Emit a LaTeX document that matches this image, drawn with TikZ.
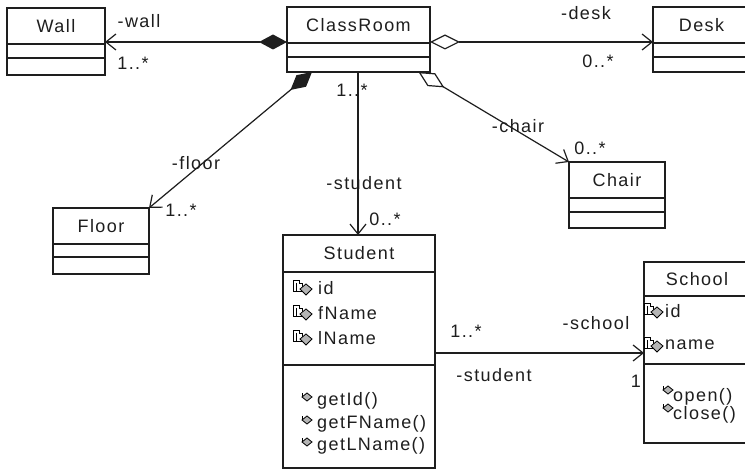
\documentclass[tikz,border=0pt]{standalone}
\usepackage{fontspec}
\setmainfont{Liberation Sans}[LetterSpace=8]
\usetikzlibrary{arrows.meta,positioning,calc}
\definecolor{Ink}{HTML}{1E1E1E}
\definecolor{IconFill}{HTML}{B4B4B4}
\tikzset{
classhead/.style={draw=Ink, line width=1.1pt, fill=white, inner sep=0pt, outer sep=0pt, align=center, text=Ink},
classpart/.style={draw=Ink, line width=1.1pt, fill=white, inner sep=0pt, outer sep=0pt, below=0pt of #1},
membertext/.style={anchor=west, inner sep=0pt, text=Ink},
rolelabel/.style={inner sep=0pt, text=Ink},
composite/.style={{Diamond[length=28pt,width=15pt]}-{Straight Barb[length=10pt,width=16pt]}, line width=1.2pt, draw=Ink, fill=Ink},
shared/.style={{Diamond[open,length=30pt,width=15pt]}-{Straight Barb[length=10pt,width=16pt]}, line width=1.2pt, draw=Ink},
navline/.style={-{Straight Barb[length=10pt,width=16pt]}, line width=1.2pt, draw=Ink},
attricon/.pic={
  \draw[line width=0.8pt, fill=white] (-11,-8) -- (-5,-8) -- (-5,-5) -- (-2,-5) -- (-2,3) -- (-11,3) -- cycle;
  \draw[line width=0.8pt] (-8,-5) -- (-8,3);
  \draw[line width=0.8pt, fill=IconFill] (-4,1) -- (2,-4) -- (8,1) -- (2,7) -- cycle;
},
opicon/.pic={
  \draw[line width=0.8pt, fill=IconFill] (-5,0) -- (0,-4) -- (5,0) -- (0,4) -- cycle;
  \draw[line width=0.8pt] (-5,0) -- (-5,-4);
}
}
\begin{document}
\begin{tikzpicture}[x=1pt, y=-1pt, font=\fontsize{18}{21}\selectfont, >=Latex]
  \useasboundingbox[fill=white] (0,0) rectangle (745,470);
  % classes
  \node[classhead, minimum width=98pt, minimum height=36pt] (wall) at (56,26) {Wall};
  \node[classpart=wall, minimum width=98pt, minimum height=14pt] (wallattr) {};
  \node[classpart=wallattr, minimum width=98pt, minimum height=17pt] (wallops) {};
  \node[classhead, minimum width=143pt, minimum height=36pt] (room) at (358.5,25) {ClassRoom};
  \node[classpart=room, minimum width=143pt, minimum height=14pt] (roomattr) {};
  \node[classpart=roomattr, minimum width=143pt, minimum height=15pt] (roomops) {};
  \node[classhead, minimum width=97pt, minimum height=36pt] (desk) at (701.5,25) {Desk};
  \node[classpart=desk, minimum width=97pt, minimum height=14pt] (deskattr) {};
  \node[classpart=deskattr, minimum width=97pt, minimum height=15pt] (deskops) {};
  \node[classhead, minimum width=96pt, minimum height=36pt] (floor) at (101,226) {Floor};
  \node[classpart=floor, minimum width=96pt, minimum height=13pt] (floorattr) {};
  \node[classpart=floorattr, minimum width=96pt, minimum height=17pt] (floorops) {};
  \node[classhead, minimum width=96pt, minimum height=36pt] (chair) at (617,180) {Chair};
  \node[classpart=chair, minimum width=96pt, minimum height=14pt] (chairattr) {};
  \node[classpart=chairattr, minimum width=96pt, minimum height=16pt] (chairops) {};
  \node[classhead, minimum width=152pt, minimum height=37pt] (student) at (359,253.5) {Student};
  \node[classpart=student, minimum width=152pt, minimum height=93pt] (studattr) {};
  \node[classpart=studattr, minimum width=152pt, minimum height=103pt] (studops) {};
  \node[classhead, minimum width=106pt, minimum height=34pt] (school) at (697,279) {School};
  \node[classpart=school, minimum width=106pt, minimum height=68pt] (schoolattr) {};
  \node[classpart=schoolattr, minimum width=106pt, minimum height=79pt] (schoolops) {};
  % members
  \foreach \y/\txt [count=\i] in {288/id, 313/fName, 338/lName} {
    \pic at (304,\y) {attricon};
    \node[membertext] (stattr\i) at (318,\y) {\txt};
  }
  \foreach \y/\txt [count=\i] in {401/getId(), 424/getFName(), 446/getLName()} {
    \pic at (307,\y-4) {opicon};
    \node[membertext] (stop\i) at (317,\y) {\txt};
  }
  \foreach \y/\txt [count=\i] in {311/id, 345/name} {
    \pic at (655,\y) {attricon};
    \node[membertext] (scattr\i) at (665,\y) {\txt};
  }
  \foreach \y/\txt [count=\i] in {397/open(), 415/close()} {
    \pic at (668,\y-7) {opicon};
    \node[membertext] (scop\i) at (673,\y) {\txt};
  }
  % connectors
  \draw[composite] ([yshift=1pt]room.south west) -- ([yshift=2pt]wall.south east);
  \draw[shared] ([yshift=1pt]room.south east) -- ([yshift=1pt]desk.south west);
  \draw[composite] ([xshift=-46.5pt]roomops.south) -- (floor.north east);
  \draw[shared] ([xshift=60pt]roomops.south) -- (chair.north west);
  \draw[navline] ([xshift=-0.5pt]roomops.south) -- ([xshift=-0.5pt]roomops.south |- student.north);
  \draw[navline] ([yshift=12pt]studattr.south east) -- ([yshift=11pt]schoolattr.south west);
  % role names and multiplicities
  \node[rolelabel] (lwall) at (139,21) {-wall};
  \node[rolelabel] (mwall) at (133,63) {1..*};
  \node[rolelabel] (ldesk) at (586,13) {-desk};
  \node[rolelabel] (mdesk) at (598,61) {0..*};
  \node[rolelabel] (mroom) at (352,90) {1..*};
  \node[rolelabel] (lchair) at (518,126) {-chair};
  \node[rolelabel] (mchair) at (590,148) {0..*};
  \node[rolelabel] (lfloor) at (196,163) {-floor};
  \node[rolelabel] (mfloor) at (181,210) {1..*};
  \node[rolelabel] (lstud) at (364,183) {-student};
  \node[rolelabel] (mstud) at (385,219) {0..*};
  \node[rolelabel] (mstudsch) at (466,331) {1..*};
  \node[rolelabel] (lschool) at (596,323) {-school};
  \node[rolelabel] (lstudsch) at (494,375) {-student};
  \node[rolelabel] (mschool) at (636,381) {1};
\end{tikzpicture}
\end{document}
